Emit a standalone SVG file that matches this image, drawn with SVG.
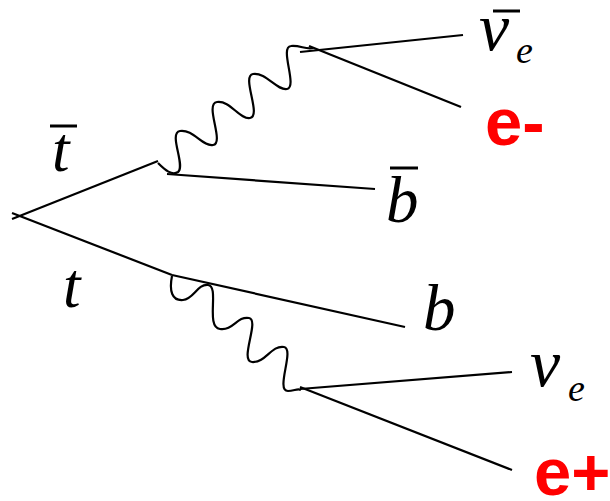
<svg xmlns="http://www.w3.org/2000/svg" width="610" height="501" viewBox="0 0 610 501">
<style>
.ln{stroke:#000;stroke-width:2.2;fill:none;stroke-linecap:butt}
.bar{stroke:#000;stroke-width:3}
.m{font-family:"Liberation Serif","DejaVu Serif",serif;font-style:italic;fill:#000}
.e{font-family:"Liberation Sans",Arial,sans-serif;font-weight:bold;fill:#ff0000;font-size:67px}
</style>
<rect width="610" height="501" fill="#fff"/>
<g id="connectors">
<line class="ln" x1="12" y1="219" x2="158" y2="161"/>
<line class="ln" x1="12" y1="213" x2="172" y2="275"/>
<line class="ln" x1="167" y1="174" x2="375" y2="189"/>
<line class="ln" x1="172" y1="275" x2="405" y2="327"/>
<line class="ln" x1="300" y1="52" x2="463" y2="35"/>
<line class="ln" x1="309" y1="46" x2="461" y2="107"/>
<line class="ln" x1="300" y1="389" x2="512" y2="372"/>
<line class="ln" x1="300" y1="387" x2="512" y2="470"/>
<path class="ln" d="M158,163 C165,170 172,176 178,172 C186,166 168,133 180,131 C193,129 203,147 213,145 C225,143 204,104 217,102 C230,100 240,120 250,118 C262,116 241,76 253,74 C266,72 277,91 287,89 C298,87 279,47 291,46 C300,45 306,50 313,48"/>
<path class="ln" d="M172,276 C169,291 172,301 183,300 C194,299 197,284 208,285 C220,286 205,327 220,329 C233,331 237,316 249,318 C260,320 239,361 252,362 C266,363 271,345 284,347 C295,349 275,391 288,391 C294,391 298,388 301,390"/>
</g>
<g id="tbar">
<text class="m" x="52" y="171" font-size="63">t</text>
<line class="bar" x1="50" y1="126" x2="77" y2="126"/>
</g>
<g id="t">
<text class="m" x="63" y="307" font-size="63">t</text>
</g>
<g id="bbar">
<text class="m" x="386" y="222" font-size="65">b</text>
<line class="bar" x1="390" y1="168" x2="418" y2="168"/>
</g>
<g id="b">
<text class="m" x="423" y="330" font-size="65">b</text>
</g>
<g id="nuebar">
<text class="m" x="479" y="50" font-size="68">ν</text>
<line class="bar" x1="493" y1="11" x2="520" y2="11"/>
<text class="m" x="516" y="63" font-size="38">e</text>
</g>
<g id="nue">
<text class="m" x="530" y="386" font-size="68">ν</text>
<text class="m" x="568" y="401" font-size="38">e</text>
</g>
<g id="eminus">
<text class="e" x="485" y="145">e-</text>
</g>
<g id="eplus">
<text class="e" x="534" y="495">e+</text>
</g>
</svg>
